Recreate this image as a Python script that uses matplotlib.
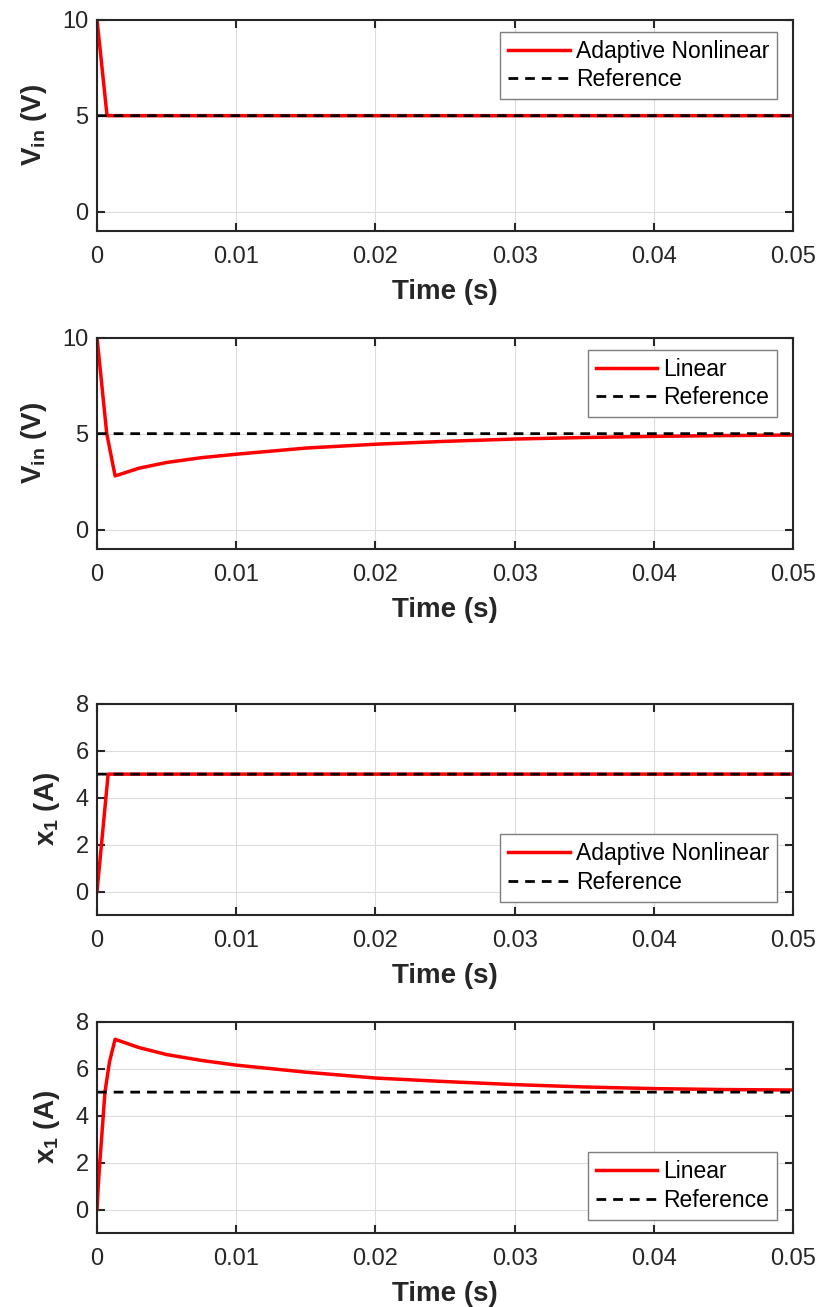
import matplotlib
matplotlib.use("Agg")
import matplotlib.pyplot as plt

plt.rcParams['font.family'] = ['Liberation Sans', 'DejaVu Sans']
plt.rcParams['mathtext.fontset'] = 'custom'
plt.rcParams['mathtext.rm'] = 'Liberation Sans'
plt.rcParams['mathtext.bf'] = 'Liberation Sans:bold'

# Vin, adaptive nonlinear controller
t_vin_nl = [0, 0.00072, 0.05]
vin_nl = [10, 5, 5]

# Vin, linear controller
t_vin_lin = [0, 0.0007, 0.0013, 0.003, 0.005, 0.0075, 0.01, 0.015, 0.02, 0.025, 0.03, 0.035, 0.04, 0.045, 0.05]
vin_lin = [10, 5.0, 2.8, 3.2, 3.5, 3.75, 3.93, 4.25, 4.45, 4.6, 4.72, 4.8, 4.86, 4.9, 4.93]

# x1, adaptive nonlinear controller
t_x1_nl = [0, 0.0008, 0.05]
x1_nl = [0, 5, 5]

# x1, linear controller
t_x1_lin = [0, 0.0001, 0.0002, 0.0004, 0.00057, 0.0009, 0.0013, 0.003, 0.005, 0.0075, 0.01,
            0.015, 0.02, 0.025, 0.03, 0.035, 0.04, 0.045, 0.05]
x1_lin = [0, 1.1, 2.0, 3.6, 5.0, 6.3, 7.25, 6.9, 6.6, 6.35, 6.15,
          5.85, 5.6, 5.45, 5.32, 5.22, 5.15, 5.11, 5.09]

t_ref = [0, 0.05]
ref = [5, 5]

xticks = [0, 0.01, 0.02, 0.03, 0.04, 0.05]
xticklabels = ['0', '0.01', '0.02', '0.03', '0.04', '0.05']

fig = plt.figure(figsize=(8.2, 13.07), dpi=100)
left, width, height = 0.1183, 0.8488, 0.1617
bottoms = [0.8233, 0.5800, 0.2999, 0.0566]

panels = [
    (t_vin_nl, vin_nl, 'Adaptive Nonlinear', r'$\mathbf{V_{in}}$ (V)', (-1, 10), [0, 5, 10], 'upper right'),
    (t_vin_lin, vin_lin, 'Linear', r'$\mathbf{V_{in}}$ (V)', (-1, 10), [0, 5, 10], 'upper right'),
    (t_x1_nl, x1_nl, 'Adaptive Nonlinear', r'$\mathbf{x_1}$ (A)', (-1, 8), [0, 2, 4, 6, 8], 'lower right'),
    (t_x1_lin, x1_lin, 'Linear', r'$\mathbf{x_1}$ (A)', (-1, 8), [0, 2, 4, 6, 8], 'lower right'),
]

dark = '#262626'
for b, (t, y, name, ylab, ylim, yticks, loc) in zip(bottoms, panels):
    ax = fig.add_axes([left, b, width, height])
    ax.plot(t, y, color='red', lw=2.5, label=name, snap=False)
    ax.plot(t_ref, ref, color='black', lw=2.0, ls=(0, (3.5, 2.5)), label='Reference', snap=False)
    ax.set_xlim(0, 0.05)
    ax.set_ylim(*ylim)
    ax.set_xticks(xticks)
    ax.set_xticklabels(xticklabels)
    ax.set_yticks(yticks)
    ax.grid(True, color='#dcdcdc', lw=0.8)
    ax.set_axisbelow(True)
    ax.tick_params(direction='in', top=True, right=True, length=6, width=1.5,
                   labelsize=17, colors=dark, pad=6)
    ax.tick_params(axis='x', pad=11)
    for s in ax.spines.values():
        s.set_color(dark)
        s.set_linewidth(1.5)
    ax.set_xlabel('Time (s)', fontsize=20, fontweight='bold', color=dark, labelpad=8)
    ax.set_ylabel(ylab, fontsize=20, fontweight='bold', color=dark, labelpad=10)
    if loc == 'upper right':
        anchor = (1 - 16 / 696, 1 - 12 / 211)
    else:
        anchor = (1 - 16 / 696, 13 / 211)
    leg = ax.legend(loc=loc, bbox_to_anchor=anchor, fontsize=16.5, handlelength=2.7,
                    fancybox=False, framealpha=1, edgecolor='#7f7f7f', borderpad=0.35,
                    labelspacing=0.25, handletextpad=0.25, borderaxespad=0)
    leg.get_frame().set_linewidth(1.0)

fig.savefig('out.png', dpi=100)
